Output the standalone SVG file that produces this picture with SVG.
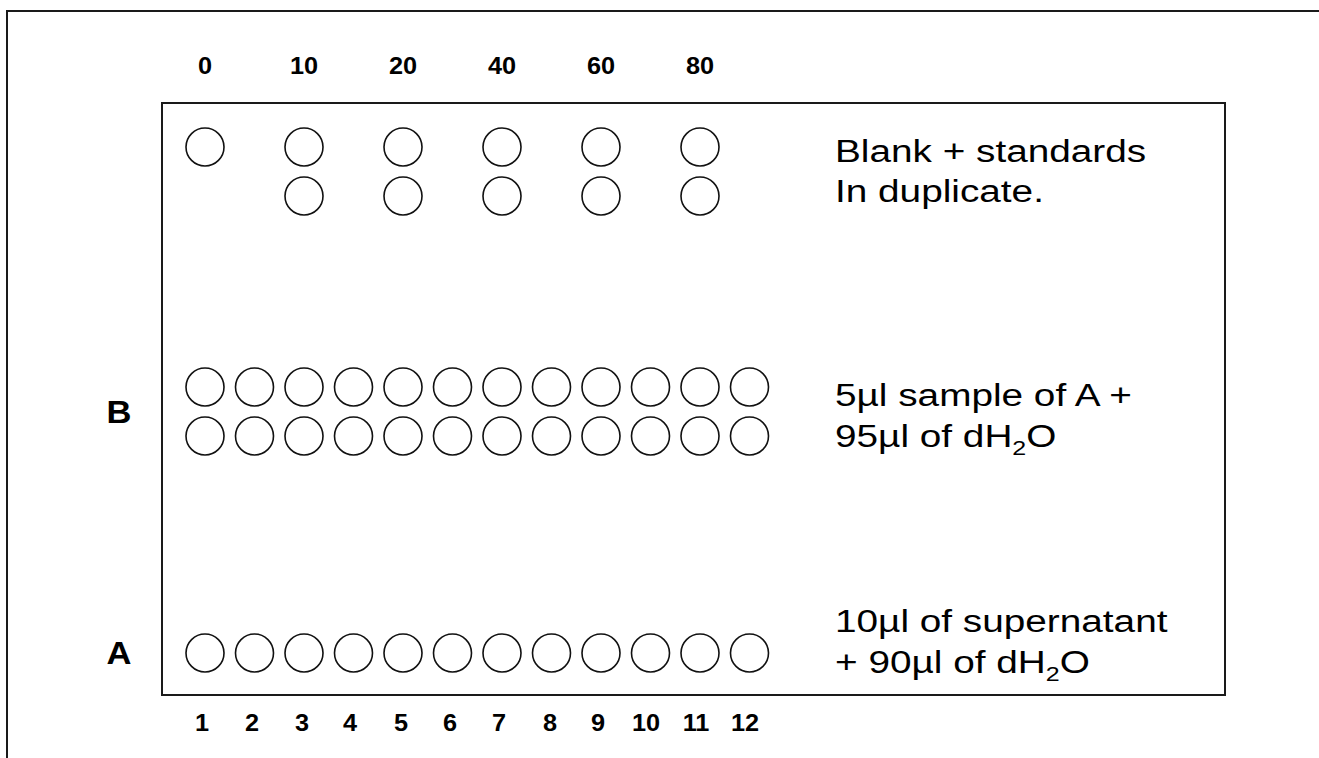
<svg xmlns="http://www.w3.org/2000/svg" width="1319" height="758" viewBox="0 0 1319 758">
  <style>
    .frame { fill: none; stroke: #1a1a1a; stroke-width: 2; }
    .well { fill: #ffffff; stroke: #111111; stroke-width: 1.6; }
    .num { font-family: "Liberation Sans", Arial, sans-serif; font-weight: bold; font-size: 23px; fill: #000; text-anchor: middle; }
    .row { font-family: "Liberation Sans", Arial, sans-serif; font-weight: bold; font-size: 32px; fill: #000; text-anchor: middle; }
    .note { font-family: "Liberation Sans", Arial, sans-serif; font-size: 31px; fill: #000; }
    .sub { font-size: 20px; }
  </style>
  <defs>
    <circle id="w" r="19" class="well"/>
  </defs>

  <rect width="1319" height="758" fill="#ffffff"/>

  <!-- outer frame (runs off the right and bottom edges) -->
  <rect id="outer-frame" class="frame" x="7" y="11" width="1340" height="780"/>

  <!-- plate outline -->
  <rect id="plate" class="frame" x="162" y="103" width="1063" height="592"/>

  <!-- standard concentrations -->
  <g id="standard-labels">
    <text class="num" transform="matrix(1.1 0 0 1 205 74)">0</text>
    <text class="num" transform="matrix(1.1 0 0 1 304 74)">10</text>
    <text class="num" transform="matrix(1.1 0 0 1 403 74)">20</text>
    <text class="num" transform="matrix(1.1 0 0 1 502 74)">40</text>
    <text class="num" transform="matrix(1.1 0 0 1 601 74)">60</text>
    <text class="num" transform="matrix(1.1 0 0 1 700 74)">80</text>
  </g>

  <!-- blank + standards, duplicate wells -->
  <g id="standards-wells">
    <use href="#w" x="205" y="147"/>
    <use href="#w" x="304" y="147"/><use href="#w" x="304" y="196"/>
    <use href="#w" x="403" y="147"/><use href="#w" x="403" y="196"/>
    <use href="#w" x="502" y="147"/><use href="#w" x="502" y="196"/>
    <use href="#w" x="601" y="147"/><use href="#w" x="601" y="196"/>
    <use href="#w" x="700" y="147"/><use href="#w" x="700" y="196"/>
  </g>

  <!-- row B: diluted samples, two rows of 12 -->
  <g id="row-b-wells">
    <use href="#w" x="205" y="387"/><use href="#w" x="254.5" y="387"/><use href="#w" x="304" y="387"/><use href="#w" x="353.5" y="387"/>
    <use href="#w" x="403" y="387"/><use href="#w" x="452.5" y="387"/><use href="#w" x="502" y="387"/><use href="#w" x="551.5" y="387"/>
    <use href="#w" x="601" y="387"/><use href="#w" x="650.5" y="387"/><use href="#w" x="700" y="387"/><use href="#w" x="749.5" y="387"/>
    <use href="#w" x="205" y="436"/><use href="#w" x="254.5" y="436"/><use href="#w" x="304" y="436"/><use href="#w" x="353.5" y="436"/>
    <use href="#w" x="403" y="436"/><use href="#w" x="452.5" y="436"/><use href="#w" x="502" y="436"/><use href="#w" x="551.5" y="436"/>
    <use href="#w" x="601" y="436"/><use href="#w" x="650.5" y="436"/><use href="#w" x="700" y="436"/><use href="#w" x="749.5" y="436"/>
  </g>

  <!-- row A: supernatant dilutions -->
  <g id="row-a-wells">
    <use href="#w" x="205" y="653"/><use href="#w" x="254.5" y="653"/><use href="#w" x="304" y="653"/><use href="#w" x="353.5" y="653"/>
    <use href="#w" x="403" y="653"/><use href="#w" x="452.5" y="653"/><use href="#w" x="502" y="653"/><use href="#w" x="551.5" y="653"/>
    <use href="#w" x="601" y="653"/><use href="#w" x="650.5" y="653"/><use href="#w" x="700" y="653"/><use href="#w" x="749.5" y="653"/>
  </g>

  <!-- row letters -->
  <g id="row-labels">
    <text class="row" transform="matrix(1.08 0 0 1 119 423)">B</text>
    <text class="row" transform="matrix(1.08 0 0 1 119 664)">A</text>
  </g>

  <!-- column numbers -->
  <g id="column-labels">
    <text class="num" transform="matrix(1.1 0 0 1 202 731)">1</text>
    <text class="num" transform="matrix(1.1 0 0 1 252 731)">2</text>
    <text class="num" transform="matrix(1.1 0 0 1 302 731)">3</text>
    <text class="num" transform="matrix(1.1 0 0 1 350 731)">4</text>
    <text class="num" transform="matrix(1.1 0 0 1 401 731)">5</text>
    <text class="num" transform="matrix(1.1 0 0 1 450 731)">6</text>
    <text class="num" transform="matrix(1.1 0 0 1 499 731)">7</text>
    <text class="num" transform="matrix(1.1 0 0 1 550 731)">8</text>
    <text class="num" transform="matrix(1.1 0 0 1 598 731)">9</text>
    <text class="num" transform="matrix(1.1 0 0 1 646 731)">10</text>
    <text class="num" transform="matrix(1.1 0 0 1 696 731)">11</text>
    <text class="num" transform="matrix(1.1 0 0 1 745 731)">12</text>
  </g>

  <!-- descriptions -->
  <g id="standards-note">
    <text class="note" transform="matrix(1.25 0 0 1 835 162)">Blank + standards</text>
    <text class="note" transform="matrix(1.25 0 0 1 835 202)">In duplicate.</text>
  </g>
  <g id="row-b-note">
    <text class="note" transform="matrix(1.25 0 0 1 835 406)">5µl sample of A +</text>
    <text class="note" transform="matrix(1.25 0 0 1 835 447)">95µl of dH<tspan class="sub" dy="8">2</tspan><tspan dy="-8">O</tspan></text>
  </g>
  <g id="row-a-note">
    <text class="note" transform="matrix(1.25 0 0 1 835 632)">10µl of supernatant</text>
    <text class="note" transform="matrix(1.25 0 0 1 835 673)">+ 90µl of dH<tspan class="sub" dy="8">2</tspan><tspan dy="-8">O</tspan></text>
  </g>
</svg>
